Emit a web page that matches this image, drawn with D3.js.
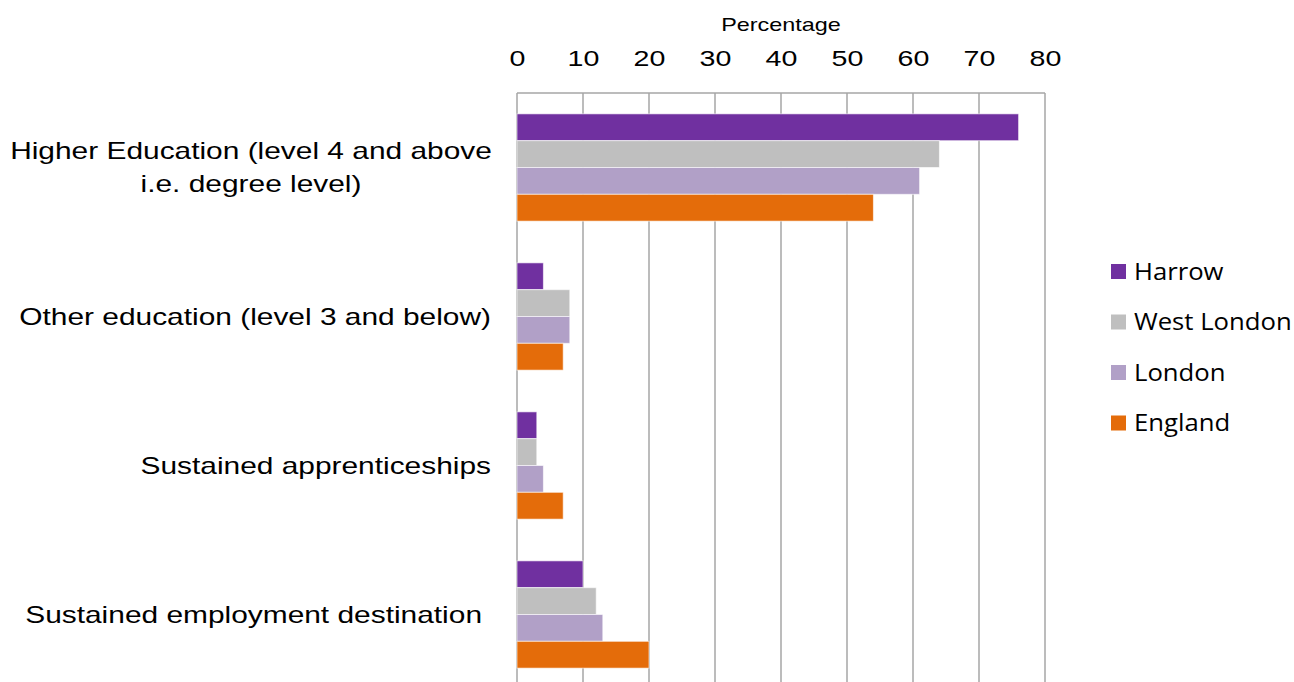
<!DOCTYPE html>
<html>
<head>
<meta charset="utf-8">
<script src="https://cdn.jsdelivr.net/npm/d3@7"></script>
<style>
  html, body { margin: 0; padding: 0; background: #fff; }
  svg { display: block; }
</style>
</head>
<body>
<svg id="chart" width="1294" height="682"></svg>
<script>
// Destinations of pupils after key stage 5, percentage by area
const categories = [
  "Higher Education (level 4 and above i.e. degree level)",
  "Other education (level 3 and below)",
  "Sustained apprenticeships",
  "Sustained employment destination"
];
const categoryLines = [
  ["Higher Education (level 4 and above", "i.e. degree level)"],
  ["Other education (level 3 and below)"],
  ["Sustained apprenticeships"],
  ["Sustained employment destination"]
];
const seriesNames = ["Harrow", "West London", "London", "England"];
const harrow     = [76, 4, 3, 10];
const westLondon = [64, 8, 3, 12];
const london     = [61, 8, 4, 13];
const england    = [54, 7, 7, 20];
const xTicks = [0, 10, 20, 30, 40, 50, 60, 70, 80];
const colors = ["#7030a0", "#bfbfbf", "#b1a0c7", "#e46c0a"];

const seriesValues = [harrow, westLondon, london, england];
const rows = categories.map((c, i) => ({
  category: c,
  values: seriesNames.map((s, j) => ({ series: s, value: seriesValues[j][i], color: colors[j] }))
}));

const ARIAL = "Liberation Sans, Arial, sans-serif";
const WIDE = 1.3;   // horizontal stretch of the chart text

const svg = d3.select("#chart");
const plot = { left: 517, right: 1045, top: 93, bottom: 689 };

const x = d3.scaleLinear().domain([0, 80]).range([plot.left, plot.right]);
const y = d3.scaleBand().domain(categories).range([plot.top, plot.bottom])
  .paddingInner(0.28).paddingOuter(0.14);
const ySub = d3.scaleBand().domain(seriesNames).range([0, y.bandwidth()]);

// vertical gridlines
svg.append("g")
  .selectAll("line")
  .data(xTicks)
  .join("line")
  .attr("x1", d => x(d)).attr("x2", d => x(d))
  .attr("y1", plot.top).attr("y2", 682)
  .attr("stroke", "#a6a6a6")
  .attr("stroke-width", 1.5);

// top border of plot area
svg.append("line")
  .attr("x1", plot.left).attr("x2", plot.right)
  .attr("y1", plot.top).attr("y2", plot.top)
  .attr("stroke", "#a6a6a6").attr("stroke-width", 1.5);

// top axis labels
const axis = d3.axisTop(x).tickValues(xTicks).tickSize(0).tickPadding(0);
const axisG = svg.append("g")
  .attr("transform", `translate(0, 66)`)
  .call(axis);
axisG.select(".domain").remove();
axisG.selectAll("text")
  .attr("font-family", ARIAL)
  .attr("font-size", 22)
  .attr("fill", "#000")
  .attr("dy", 0)
  .attr("transform", `scale(${WIDE},1)`);

svg.append("text")
  .attr("transform", `translate(${x(40)}, 31) scale(${WIDE},1)`)
  .attr("text-anchor", "middle")
  .attr("font-family", ARIAL)
  .attr("font-size", 18)
  .attr("fill", "#000")
  .text("Percentage");

// bars
const groups = svg.append("g")
  .selectAll("g")
  .data(rows)
  .join("g")
  .attr("transform", d => `translate(0, ${y(d.category)})`);

groups.selectAll("rect")
  .data(d => d.values)
  .join("rect")
  .attr("x", x(0))
  .attr("y", d => ySub(d.series))
  .attr("width", d => x(d.value) - x(0))
  .attr("height", ySub.bandwidth())
  .attr("fill", d => d.color)
  .attr("stroke", "rgba(255,255,255,0.6)")
  .attr("stroke-width", 1);

// category labels: wrapped label is centred, single lines are right-aligned
const labelG = svg.append("g")
  .attr("font-family", ARIAL)
  .attr("font-size", 23)
  .attr("fill", "#000");

categories.forEach((c, i) => {
  const lines = categoryLines[i];
  const cy = y(c) + y.bandwidth() / 2;
  const lh = 33;
  const wrapped = lines.length > 1;
  const ax = wrapped ? 251 : (i === 3 ? 482 : 491);
  lines.forEach((ln, k) => {
    const by = cy + 8 + (k - (lines.length - 1) / 2) * lh;
    labelG.append("text")
      .attr("transform", `translate(${ax}, ${by}) scale(${WIDE},1)`)
      .attr("text-anchor", wrapped ? "middle" : "end")
      .text(ln);
  });
});

// legend
const legend = svg.append("g")
  .attr("font-family", "Open Sans, Lato, sans-serif")
  .attr("font-size", 24)
  .attr("fill", "#000");
const legendY = d3.scalePoint().domain(seriesNames).range([271.5, 423]);
const item = legend.selectAll("g")
  .data(seriesNames)
  .join("g")
  .attr("transform", d => `translate(1111, ${legendY(d)})`);
item.append("rect")
  .attr("x", 0).attr("y", -7.5)
  .attr("width", 15).attr("height", 15)
  .attr("fill", (d, i) => colors[i]);
item.append("text")
  .attr("transform", `translate(23, 8) scale(1.07,1)`)
  .text(d => d);
</script>
</body>
</html>
